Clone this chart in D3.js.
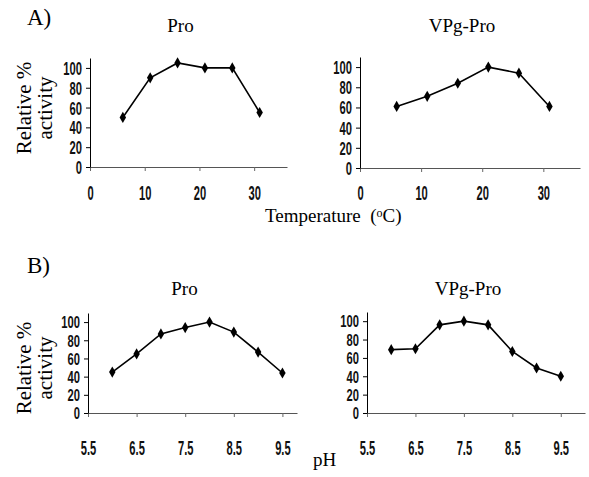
<!DOCTYPE html>
<html>
<head>
<meta charset="utf-8">
<script src="https://cdn.jsdelivr.net/npm/d3@7"></script>
<style>
  body { margin: 0; background: #fff; }
  svg { display: block; }
</style>
</head>
<body>
<div id="chart"></div>
<script>
// temperature series (degrees C)
const tempX = [6, 11, 16, 21, 26, 31];
const proTemp = [50, 90, 105, 100, 100, 55];
const vpgTemp = [61, 71, 84, 100, 94, 61];

// pH series
const phX = [6, 6.5, 7, 7.5, 8, 8.5, 9, 9.5];
const proPH = [45, 65, 87, 94, 100, 89, 67, 44];
const vpgPH = [69, 70, 96, 100, 96, 67, 49, 40];

const tempTicks = [0, 10, 20, 30];
const phTicks = [5.5, 6.5, 7.5, 8.5, 9.5];
const yTicks = [0, 20, 40, 60, 80, 100];

const width = 589, height = 477;
const serif = "'Liberation Serif', 'Times New Roman', serif";
const sans = "'Liberation Sans', Arial, sans-serif";

const svg = d3.select("#chart").append("svg")
  .attr("width", width)
  .attr("height", height);

const panels = [
  { title: "Pro", xs: tempX, ys: proTemp, xDom: [0, 36], xRange: [90, 287], yRange: [167, 58],
    ticks: tempTicks, fmt: d3.format("d"), labelOff: 33, titleY: 32, yFont: 18 },
  { title: "VPg-Pro", xs: tempX, ys: vpgTemp, xDom: [0, 36], xRange: [360, 580], yRange: [168, 57],
    ticks: tempTicks, fmt: d3.format("d"), labelOff: 32, titleY: 32, yFont: 18 },
  { title: "Pro", xs: phX, ys: proPH, xDom: [5.5, 9.8], xRange: [88, 297], yRange: [413, 313],
    ticks: phTicks, fmt: d3.format(".1f"), labelOff: 42, titleY: 295, yFont: 16 },
  { title: "VPg-Pro", xs: phX, ys: vpgPH, xDom: [5.5, 10], xRange: [367, 585], yRange: [413, 312],
    ticks: phTicks, fmt: d3.format(".1f"), labelOff: 42, titleY: 295, yFont: 16 }
];

const diamond = d3.symbol().type(d3.symbolDiamond).size(36);

panels.forEach(function(p) {
  const x = d3.scaleLinear().domain(p.xDom).range(p.xRange);
  const y = d3.scaleLinear().domain([0, 110]).range(p.yRange);
  const g = svg.append("g");

  // x axis
  const xAxis = g.append("g")
    .attr("transform", "translate(0," + y(0) + ")")
    .call(d3.axisBottom(x).tickValues(p.ticks).tickFormat(p.fmt).tickSize(4).tickSizeOuter(0));
  xAxis.select(".domain").attr("stroke", "#555");
  xAxis.selectAll(".tick line").attr("stroke", "#666");
  xAxis.selectAll(".tick text")
    .attr("y", null).attr("dy", null)
    .attr("transform", "translate(0," + p.labelOff + ") scale(0.62,1.1)")
    .attr("font-family", sans).attr("font-size", 18).attr("font-weight", "bold").attr("fill", "#111");

  // y axis
  const yAxis = g.append("g")
    .attr("transform", "translate(" + x(p.xDom[0]) + ",0)")
    .call(d3.axisLeft(y).tickValues(yTicks).tickSize(4).tickSizeOuter(0));
  yAxis.select(".domain").attr("stroke", "#000");
  yAxis.selectAll(".tick text")
    .attr("x", null).attr("dy", "0.36em")
    .attr("transform", "translate(-8,0) scale(" + (11.2 / p.yFont) + ",1)")
    .attr("font-family", sans).attr("font-size", p.yFont).attr("font-weight", "bold").attr("fill", "#111");
  g.selectAll(".domain, .tick line").attr("stroke-width", 1);

  const pts = p.xs.map(function(v, i) { return [v, p.ys[i]]; });

  g.append("path")
    .datum(pts)
    .attr("fill", "none")
    .attr("stroke", "#000")
    .attr("stroke-width", 1.6)
    .attr("d", d3.line().x(function(d) { return x(d[0]); }).y(function(d) { return y(d[1]); }));

  g.selectAll(".pt")
    .data(pts)
    .enter()
    .append("path")
    .attr("class", "pt")
    .attr("d", diamond)
    .attr("transform", function(d) { return "translate(" + x(d[0]) + "," + y(d[1]) + ")"; })
    .attr("fill", "#000");

  g.append("text")
    .attr("x", (p.xRange[0] + p.xRange[1]) / 2 - 8)
    .attr("y", p.titleY)
    .attr("text-anchor", "middle")
    .attr("font-family", serif).attr("font-size", 19)
    .text(p.title);
});

// panel letters
svg.append("text").attr("x", 27).attr("y", 25)
  .attr("font-family", serif).attr("font-size", 23).text("A)");
svg.append("text").attr("x", 27).attr("y", 273)
  .attr("font-family", serif).attr("font-size", 23).text("B)");

// y axis titles
[108, 368].forEach(function(cy) {
  const t = svg.append("text")
    .attr("transform", "translate(0," + cy + ") rotate(-90)")
    .attr("text-anchor", "middle")
    .attr("font-family", serif).attr("font-size", 21);
  t.append("tspan").attr("x", 0).attr("y", 31).text("Relative %");
  t.append("tspan").attr("x", 0).attr("y", 52).text("activity");
});

// x axis titles
const tt = svg.append("text").attr("x", 265).attr("y", 222)
  .style("white-space", "pre")
  .attr("font-family", serif).attr("font-size", 19);
tt.append("tspan").text("Temperature  (");
tt.append("tspan").attr("font-size", 12).attr("dy", -5).text("o");
tt.append("tspan").attr("dy", 5).text("C)");

svg.append("text").attr("x", 313).attr("y", 466)
  .attr("font-family", serif).attr("font-size", 19).text("pH");
</script>
</body>
</html>
